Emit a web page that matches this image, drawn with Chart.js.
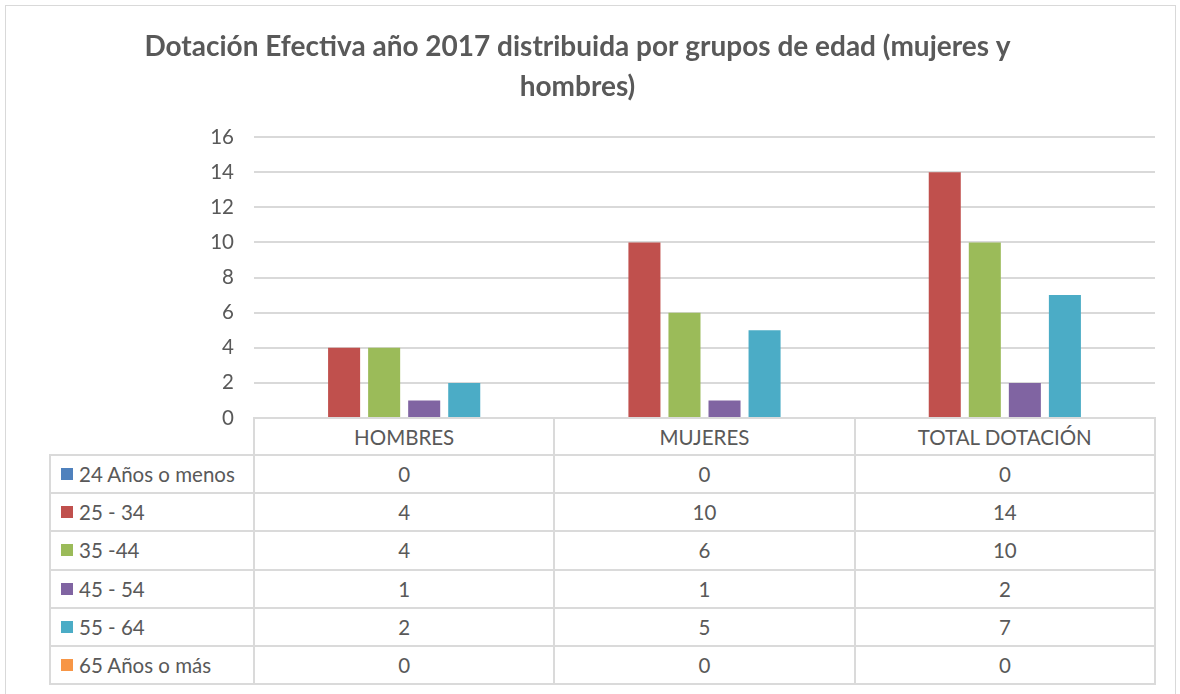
<!DOCTYPE html>
<html lang="es">
<head>
<meta charset="UTF-8">
<title>Dotación Efectiva año 2017</title>
<script src="https://cdn.jsdelivr.net/npm/chart.js"></script>
<style>
    body { margin: 0; background: #fff; font-family: Lato, "Noto Sans", sans-serif; }
    #wrap { position: relative; width: 1180px; height: 694px; overflow: hidden; background: #fff; }
    #frame { position: absolute; left: 5px; top: 5px; width: 1171px; height: 740px; border: 1px solid #d9d9d9; box-sizing: border-box; }
    #grafico { position: absolute; left: 0; top: 0; }
    .celda {
        position: absolute; box-sizing: border-box; border: 2px solid #dadada;
        color: #595959; font-size: 20.5px; display: flex; align-items: center; justify-content: center;
        white-space: nowrap; background: #fff;
    }
    .celda.etiqueta { justify-content: flex-start; padding-left: 10px; }
    .cuadro { display: inline-block; width: 12px; height: 12px; margin-right: 6px; }
</style>
</head>
<body>
<div id="wrap">
    <div id="frame"></div>
    <canvas id="grafico" width="1180" height="694"></canvas>
    <div id="tabla"></div>
</div>
<script>
    // datos
    const categorias = ['HOMBRES', 'MUJERES', 'TOTAL DOTACIÓN'];
    const grupos = ['24 Años o menos', '25 - 34', '35 -44', '45 - 54', '55 - 64', '65 Años o más'];
    const colores = ['#4f81bd', '#c0504d', '#9bbb59', '#8064a2', '#4bacc6', '#f79646'];
    const menos24 = [0, 0, 0];
    const de25a34 = [4, 10, 14];
    const de35a44 = [4, 6, 10];
    const de45a54 = [1, 1, 2];
    const de55a64 = [2, 5, 7];
    const mas65 = [0, 0, 0];
    const series = [menos24, de25a34, de35a44, de45a54, de55a64, mas65];

    const gris = '#595959';

    let ctx = document.getElementById('grafico').getContext('2d');
    let chart = new Chart(ctx, {
        type: 'bar',
        data: {
            labels: categorias,
            datasets: grupos.map((g, i) => ({
                label: g,
                data: series[i],
                backgroundColor: colores[i],
                categoryPercentage: 0.8,
                barPercentage: 0.8
            }))
        },
        options: {
            responsive: false,
            animation: false,
            devicePixelRatio: 1,
            layout: { padding: { left: 0, right: 25, top: 0, bottom: 276 } },
            plugins: {
                legend: { display: false },
                title: {
                    display: true,
                    text: ['Dotación Efectiva año 2017 distribuida por grupos de edad (mujeres y', 'hombres)'],
                    color: gris,
                    font: { family: 'Lato', size: 28, weight: 'bold', lineHeight: 1.43 },
                    padding: { top: 27, bottom: 30 }
                }
            },
            scales: {
                x: { display: false },
                y: {
                    min: 0, max: 16,
                    ticks: { stepSize: 2, color: gris, font: { family: 'Lato', size: 20.5 }, padding: 20 },
                    grid: { color: '#d9d9d9', lineWidth: 2, drawTicks: false },
                    border: { display: false },
                    afterFit: s => { s.width = 254; }
                }
            }
        }
    });

    // tabla de datos bajo el gráfico, alineada con la escala x
    const area = chart.chartArea;
    const anchoCat = (area.right - area.left) / categorias.length;
    const tabla = document.getElementById('tabla');
    const altoCab = 37;
    const altoFila = 38.2;
    const izq = 50;

    function celda(x, y, w, h, html, clase) {
        const d = document.createElement('div');
        d.className = 'celda' + (clase ? ' ' + clase : '');
        d.style.left = (x - 1) + 'px';
        d.style.top = (y - 1) + 'px';
        d.style.width = (w + 2) + 'px';
        d.style.height = (h + 2) + 'px';
        d.innerHTML = html;
        tabla.appendChild(d);
    }

    categorias.forEach((c, j) => {
        celda(area.left + j * anchoCat, area.bottom, anchoCat, altoCab, c);
    });
    grupos.forEach((g, i) => {
        const y = area.bottom + altoCab + i * altoFila;
        celda(izq, y, area.left - izq, altoFila,
            '<span class="cuadro" style="background:' + colores[i] + '"></span>' + g, 'etiqueta');
        categorias.forEach((c, j) => {
            celda(area.left + j * anchoCat, y, anchoCat, altoFila, String(series[i][j]));
        });
    });
</script>
</body>
</html>
